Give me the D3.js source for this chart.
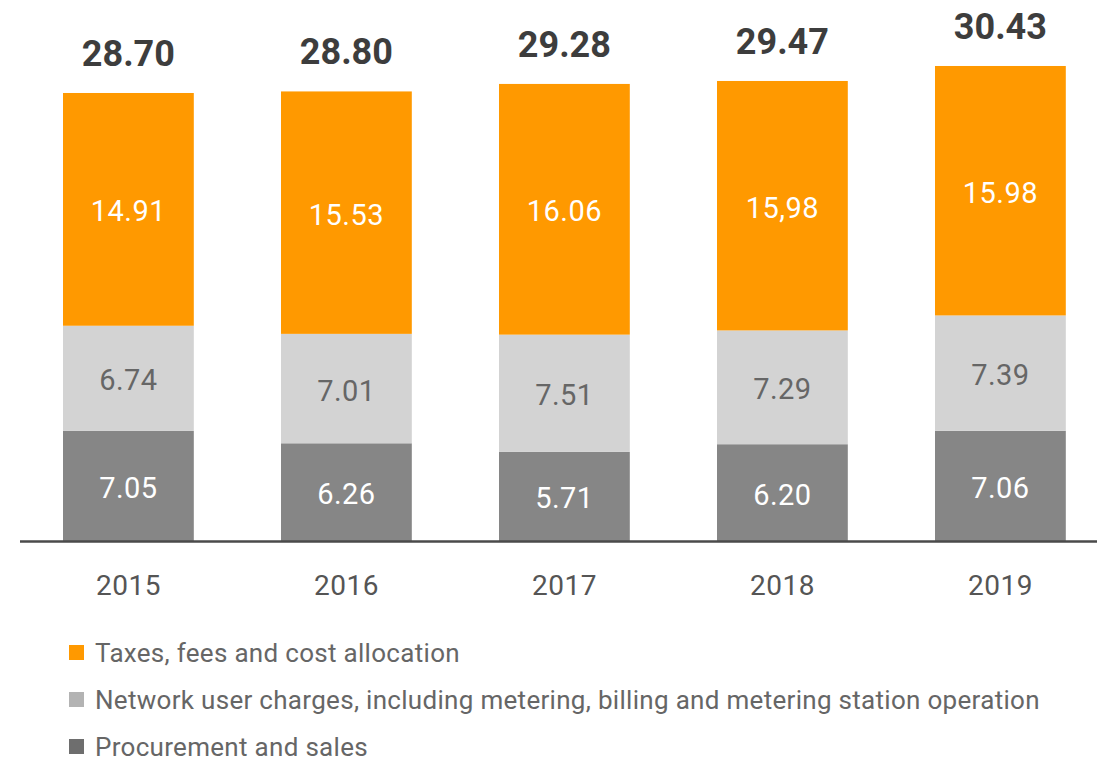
<!DOCTYPE html>
<html>
<head>
<meta charset="utf-8">
<script src="https://cdn.jsdelivr.net/npm/d3@7"></script>
<style>
  html, body { margin: 0; padding: 0; background: #fff; }
  svg { display: block; font-family: Roboto, "DejaVu Sans", sans-serif; }
</style>
</head>
<body>
<div id="chart"></div>
<script>
const years = ["2015", "2016", "2017", "2018", "2019"];
const procurement = [7.05, 6.26, 5.71, 6.20, 7.06];
const network = [6.74, 7.01, 7.51, 7.29, 7.39];
const taxes = [14.91, 15.53, 16.06, 15.98, 15.98];
const totals = ["28.70", "28.80", "29.28", "29.47", "30.43"];
// label text as printed (2018 uses a comma in the source)
const taxLabels = ["14.91", "15.53", "16.06", "15,98", "15.98"];
const networkLabels = ["6.74", "7.01", "7.51", "7.29", "7.39"];
const procurementLabels = ["7.05", "6.26", "5.71", "6.20", "7.06"];
const seriesNames = [
  "Taxes, fees and cost allocation",
  "Network user charges, including metering, billing and metering station operation",
  "Procurement and sales"
];

const width = 1097, height = 764;
const baseY = 541;

const svg = d3.select("#chart").append("svg")
  .attr("width", width)
  .attr("height", height);

const x = d3.scaleBand()
  .domain(years)
  .range([19.4, 1109.4])
  .paddingInner(0.4)
  .paddingOuter(0.2);

const y = d3.scaleLinear()
  .domain([0, 30])
  .range([baseY, baseY - 468.3]);

const rows = years.map((yr, i) => ({
  year: yr, procurement: procurement[i], network: network[i], taxes: taxes[i]
}));
const keys = ["procurement", "network", "taxes"];
const fills = { procurement: "#868686", network: "#d3d3d3", taxes: "#ff9900" };
const labelColor = { procurement: "#ffffff", network: "#666666", taxes: "#ffffff" };
const labelText = { procurement: procurementLabels, network: networkLabels, taxes: taxLabels };

const stacked = d3.stack().keys(keys)(rows);

const layers = svg.append("g")
  .selectAll("g")
  .data(stacked)
  .join("g")
  .attr("fill", d => fills[d.key]);

layers.selectAll("rect")
  .data(d => d)
  .join("rect")
  .attr("x", d => x(d.data.year))
  .attr("y", d => y(d[1]))
  .attr("width", x.bandwidth())
  .attr("height", d => y(d[0]) - y(d[1]));

// segment labels
stacked.forEach(layer => {
  svg.append("g")
    .selectAll("text")
    .data(layer)
    .join("text")
    .attr("x", d => x(d.data.year) + x.bandwidth() / 2)
    .attr("y", d => (y(d[0]) + y(d[1])) / 2 + 12)
    .attr("text-anchor", "middle")
    .attr("font-size", 29)
    .attr("letter-spacing", 0.5)
    .attr("fill", labelColor[layer.key])
    .text((d, i) => labelText[layer.key][i]);
});

// totals
const topLayer = stacked[stacked.length - 1];
svg.append("g")
  .selectAll("text")
  .data(topLayer)
  .join("text")
  .attr("x", d => x(d.data.year) + x.bandwidth() / 2)
  .attr("y", d => y(d[1]) - 27)
  .attr("text-anchor", "middle")
  .attr("font-size", 36)
  .attr("font-weight", "bold")
  .attr("fill", "#3d3d3d")
  .text((d, i) => totals[i]);

// baseline
svg.append("line")
  .attr("x1", 20).attr("x2", width)
  .attr("y1", baseY + 0.5).attr("y2", baseY + 0.5)
  .attr("stroke", "#4a4a4a")
  .attr("stroke-width", 2.5);

// x axis labels
const xAxis = d3.axisBottom(x).tickSize(0).tickPadding(0);
const gx = svg.append("g")
  .attr("transform", `translate(0, ${baseY})`)
  .call(xAxis);
gx.select(".domain").remove();
gx.selectAll("text")
  .attr("dy", null)
  .attr("y", 54)
  .attr("font-size", 28)
  .attr("letter-spacing", 0.5)
  .attr("font-family", "Roboto, 'DejaVu Sans', sans-serif")
  .attr("fill", "#555");

// legend
const legendColors = ["#ff9900", "#b3b3b3", "#6e6e6e"];
const legend = svg.append("g")
  .selectAll("g")
  .data(seriesNames)
  .join("g")
  .attr("transform", (d, i) => `translate(69, ${645 + i * 47})`);

legend.append("rect")
  .attr("width", 15)
  .attr("height", 15)
  .attr("fill", (d, i) => legendColors[i]);

legend.append("text")
  .attr("x", 26)
  .attr("y", 17)
  .attr("font-size", 26)
  .attr("letter-spacing", 0.3)
  .attr("fill", "#666")
  .text(d => d);
</script>
</body>
</html>
